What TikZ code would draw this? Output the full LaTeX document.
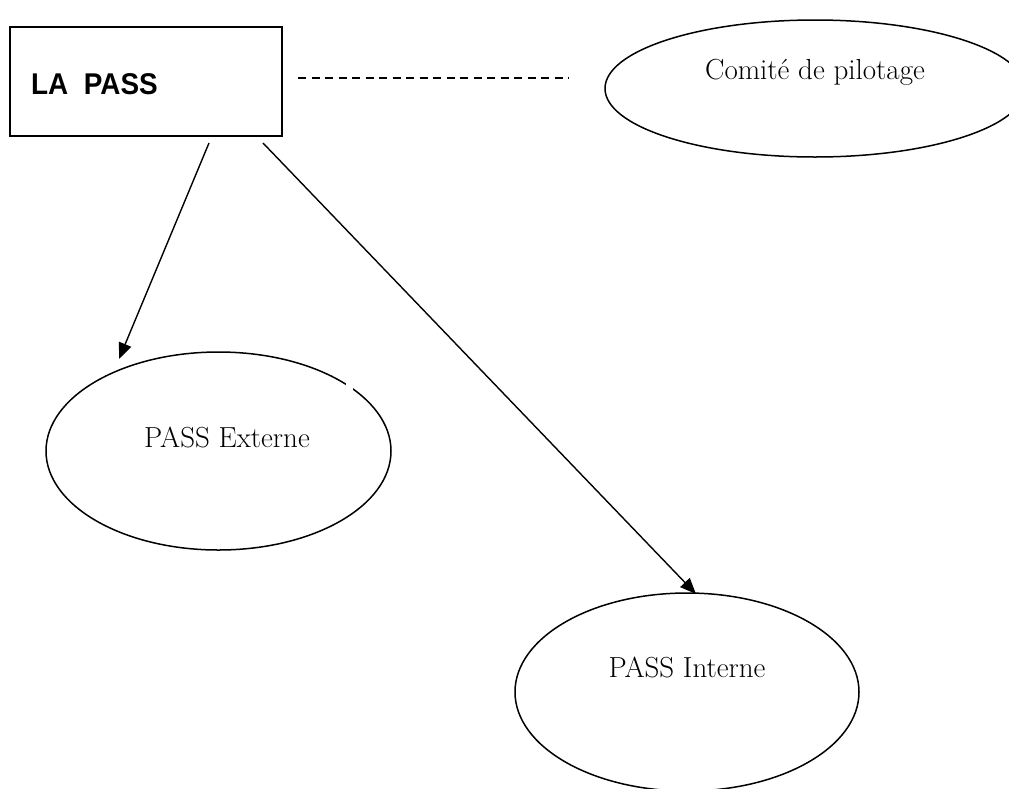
\documentclass[tikz,border=0pt]{standalone}
\usepackage{fontspec}
\usetikzlibrary{shapes.geometric,arrows.meta}
\newfontfamily\lasans{Liberation Sans}
\tikzset{
  bubble/.style={draw, ellipse, line width=1.5pt, inner sep=0pt, minimum width=345pt, minimum height=198pt},
  boxnode/.style={draw, rectangle, line width=1.4pt, inner sep=0pt, minimum width=272pt, minimum height=109pt},
  lbl/.style={inner sep=0pt, anchor=base, font=\fontsize{29}{34}\selectfont},
  arr/.style={line width=1.4pt, -{Triangle[length=16pt,width=13pt]}},
  dashconn/.style={line width=1.4pt, dash pattern=on 8pt off 5.5pt}
}
\begin{document}
\begin{tikzpicture}[x=1pt,y=-1pt]
\useasboundingbox (0,0) rectangle (1009,788);
\clip (0,0) rectangle (1009,788);
% box
\node[boxnode] (pass) at (146,81.5) {};
\node[inner sep=0pt, anchor=base west] (passtxt) at (31,94) {\scalebox{0.93}[1]{\lasans\bfseries\fontsize{30}{34}\selectfont LA\ \ PASS}};
% comite
\node[bubble, minimum width=420pt, minimum height=137pt] (comite) at (815,88.5) {};
\node[lbl] (comitetxt) at (815,79) {Comité de pilotage};
% externe
\node[bubble] (externe) at (218.5,451) {};
\node[lbl] (externetxt) at (227,447) {PASS Externe};
\fill[white] (345.5,382) rectangle (352.5,391);
% interne
\node[bubble, minimum width=344pt] (interne) at (687,692) {};
\node[lbl] (internetxt) at (687,677) {PASS Interne};
% connectors
\coordinate (d1) at (298,78);
\coordinate (d2) at (569,78);
\draw[dashconn] (d1) -- (d2);
\coordinate (a1) at (209,143);
\coordinate (b1) at (119,359);
\draw[arr] (a1) -- (b1);
\coordinate (a2) at (263,143);
\coordinate (b2) at (696,594);
\draw[arr] (a2) -- (b2);
\end{tikzpicture}
\end{document}
